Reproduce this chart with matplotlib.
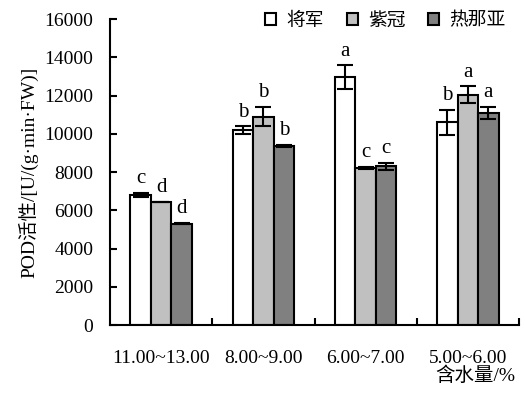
import numpy as np
import matplotlib
matplotlib.use("Agg")
import matplotlib.pyplot as plt
from matplotlib.patches import Patch

plt.rcParams["font.family"] = ["Liberation Serif", "Noto Sans CJK SC"]

# ── Data ─────────────────────────────────────────────────────────────────────
GROUPS   = ["11.00~13.00", "8.00~9.00", "6.00~7.00", "5.00~6.00"]
VARIETY  = ["将军", "紫冠", "热那亚"]
COLORS   = ["#ffffff", "#c0c0c0", "#808080"]

jiangjun = [6800, 10200, 12950, 10600]
ziguan   = [6450, 10900, 8200, 12050]
renaya   = [5300, 9350, 8300, 11100]

jiangjun_err = [100, 190, 630, 670]
ziguan_err   = [0, 500, 60, 430]
renaya_err   = [30, 50, 180, 320]

jiangjun_sig = ["c", "b", "a", "b"]
ziguan_sig   = ["d", "b", "c", "a"]
renaya_sig   = ["d", "b", "c", "a"]

# ── Plot ─────────────────────────────────────────────────────────────────────
fig = plt.figure(figsize=(5.25, 3.96), dpi=100)
ax = fig.add_axes([0.2095, 0.179, 0.7791, 0.773])

x = np.arange(len(GROUPS))
width = 0.2
series = [(jiangjun, jiangjun_err, jiangjun_sig),
          (ziguan, ziguan_err, ziguan_sig),
          (renaya, renaya_err, renaya_sig)]

for k, (vals, errs, sigs) in enumerate(series):
    pos = x + (k - 1) * width
    ax.bar(pos, vals, width, color=COLORS[k], edgecolor="black", linewidth=1.5)
    ax.errorbar(pos, vals, yerr=errs, fmt="none", ecolor="black",
                elinewidth=1.5, capsize=6, capthick=1.5)
    for p, v, e, s in zip(pos, vals, errs, sigs):
        ax.text(p, v + e + 250, s, ha="center", va="bottom", fontsize=15)

ax.set_xlim(-0.5, 3.5)
ax.set_ylim(0, 16000)
ax.set_yticks(np.arange(0, 16001, 2000))
ax.tick_params(axis="y", labelsize=14, direction="in", length=5, width=1.5, pad=12)

ax.set_xticks(x)
ax.set_xticklabels(GROUPS, fontsize=14)
ax.tick_params(axis="x", which="major", length=0, pad=18)
ax.set_xticks(np.arange(0.5, 4, 1), minor=True)
ax.tick_params(axis="x", which="minor", direction="in", length=5, width=1.5)

for side in ["top", "right"]:
    ax.spines[side].set_visible(False)
for side in ["left", "bottom"]:
    ax.spines[side].set_linewidth(1.5)

ax.set_ylabel("POD活性/[U/(g·min·FW)]", fontsize=14, labelpad=4)
fig.text(0.982, 0.028, "含水量/%", ha="right", va="bottom", fontsize=14)

handles = [Patch(facecolor=c, edgecolor="black", linewidth=1.5) for c in COLORS]
ax.legend(handles, VARIETY, ncol=3, frameon=False, fontsize=13.5,
          loc="upper right", bbox_to_anchor=(1.0, 1.065),
          handlelength=0.6, handleheight=0.6, handletextpad=0.55,
          columnspacing=1.2, borderpad=0.2)

plt.savefig("out.png", dpi=100)
plt.close()
